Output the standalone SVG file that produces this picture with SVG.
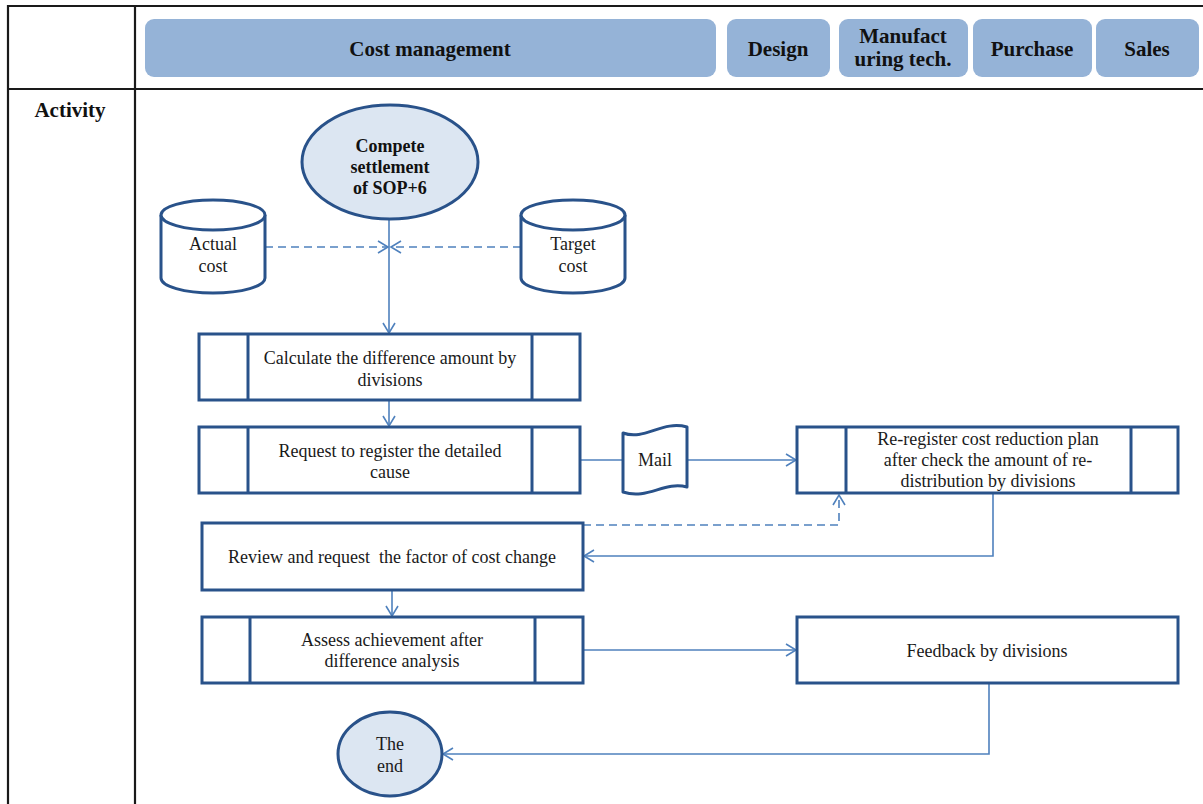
<svg xmlns="http://www.w3.org/2000/svg" width="1203" height="804" viewBox="0 0 1203 804">
  <style>
    .grid { stroke: #1a1a1a; stroke-width: 2.2; fill: none; }
    .lane { fill: #95b3d7; }
    .lane-text { font-family: "Liberation Serif", "Times New Roman", serif; font-size: 21px; font-weight: bold; fill: #111; text-anchor: middle; }
    .shape { fill: #ffffff; stroke: #29528a; stroke-width: 3; }
    .term { fill: #dce6f2; stroke: #29528a; stroke-width: 3; }
    .div { stroke: #29528a; stroke-width: 3; }
    .label { font-family: "Liberation Serif", "Times New Roman", serif; font-size: 18px; fill: #1a1a1a; text-anchor: middle; }
    .label-b { font-family: "Liberation Serif", "Times New Roman", serif; font-size: 18px; font-weight: bold; fill: #111; text-anchor: middle; }
    .flow { fill: none; stroke: #4f81bd; stroke-width: 1.6; }
    .dash { stroke-dasharray: 8 5; }
  </style>
  <defs>
    <marker id="arrow" markerWidth="14" markerHeight="14" viewBox="0 0 14 14" refX="12" refY="7" orient="auto" markerUnits="userSpaceOnUse">
      <path d="M2,1 L12,7 L2,13" fill="none" stroke="#4f81bd" stroke-width="1.6"/>
    </marker>
  </defs>

  <rect width="1203" height="804" fill="#ffffff"/>

  <!-- table frame -->
  <g id="table">
    <line class="grid" x1="7" y1="6" x2="1203" y2="6"/>
    <line class="grid" x1="7" y1="89" x2="1203" y2="89"/>
    <line class="grid" x1="8" y1="5" x2="8" y2="804"/>
    <line class="grid" x1="135" y1="5" x2="135" y2="804"/>
    <text class="lane-text" x="70" y="117">Activity</text>
  </g>

  <!-- swimlane headers -->
  <g id="lane-cost">
    <rect class="lane" x="145" y="19" width="571" height="58" rx="9"/>
    <text class="lane-text" x="430" y="56">Cost management</text>
  </g>
  <g id="lane-design">
    <rect class="lane" x="727" y="19" width="103" height="58" rx="9"/>
    <text class="lane-text" x="778" y="56">Design</text>
  </g>
  <g id="lane-manufacturing">
    <rect class="lane" x="839" y="19" width="129" height="58" rx="9"/>
    <text class="lane-text" x="903" y="43">Manufact</text>
    <text class="lane-text" x="903" y="66">uring tech.</text>
  </g>
  <g id="lane-purchase">
    <rect class="lane" x="973" y="19" width="119" height="58" rx="9"/>
    <text class="lane-text" x="1032" y="56">Purchase</text>
  </g>
  <g id="lane-sales">
    <rect class="lane" x="1096" y="19" width="103" height="58" rx="9"/>
    <text class="lane-text" x="1147" y="56">Sales</text>
  </g>

  <!-- connectors -->
  <g id="connectors">
    <line class="flow" x1="389" y1="219" x2="389" y2="333" marker-end="url(#arrow)"/>
    <line class="flow dash" x1="265" y1="247" x2="388" y2="247" marker-end="url(#arrow)"/>
    <line class="flow dash" x1="521" y1="247" x2="391" y2="247" marker-end="url(#arrow)"/>
    <line class="flow" x1="389" y1="400" x2="389" y2="426" marker-end="url(#arrow)"/>
    <line class="flow" x1="580" y1="460" x2="623" y2="460"/>
    <line class="flow" x1="687" y1="460" x2="796" y2="460" marker-end="url(#arrow)"/>
    <polyline class="flow dash" points="583,525 839,525 839,495" marker-end="url(#arrow)"/>
    <polyline class="flow" points="993,493 993,556 584,556" marker-end="url(#arrow)"/>
    <line class="flow" x1="392" y1="590" x2="392" y2="616" marker-end="url(#arrow)"/>
    <line class="flow" x1="583" y1="650" x2="796" y2="650" marker-end="url(#arrow)"/>
    <polyline class="flow" points="989,683 989,754 443,754" marker-end="url(#arrow)"/>
  </g>

  <!-- start terminal -->
  <g id="start">
    <ellipse class="term" cx="390" cy="162" rx="88" ry="57"/>
    <text class="label-b" x="390" y="152">Compete</text>
    <text class="label-b" x="390" y="173">settlement</text>
    <text class="label-b" x="390" y="194">of SOP+6</text>
  </g>

  <!-- data stores -->
  <g id="actual-cost">
    <path class="shape" d="M161,215 A52,15 0 0 1 265,215 L265,278 A52,15 0 0 1 161,278 Z"/>
    <path class="shape" fill="none" d="M161,215 A52,15 0 0 0 265,215"/>
    <text class="label" x="213" y="250">Actual</text>
    <text class="label" x="213" y="272">cost</text>
  </g>
  <g id="target-cost">
    <path class="shape" d="M521,215 A52,15 0 0 1 625,215 L625,278 A52,15 0 0 1 521,278 Z"/>
    <path class="shape" fill="none" d="M521,215 A52,15 0 0 0 625,215"/>
    <text class="label" x="573" y="250">Target</text>
    <text class="label" x="573" y="272">cost</text>
  </g>

  <!-- predefined processes -->
  <g id="calc-difference">
    <rect class="shape" x="199" y="334" width="381" height="66"/>
    <line class="div" x1="248" y1="334" x2="248" y2="400"/>
    <line class="div" x1="532" y1="334" x2="532" y2="400"/>
    <text class="label" x="390" y="364">Calculate the difference amount by</text>
    <text class="label" x="390" y="386">divisions</text>
  </g>
  <g id="request-cause">
    <rect class="shape" x="199" y="427" width="381" height="66"/>
    <line class="div" x1="248" y1="427" x2="248" y2="493"/>
    <line class="div" x1="532" y1="427" x2="532" y2="493"/>
    <text class="label" x="390" y="457">Request to register the detailed</text>
    <text class="label" x="390" y="478">cause</text>
  </g>

  <!-- mail (punched tape) -->
  <g id="mail">
    <path class="shape" stroke-linejoin="round" d="M623,433 C645,441 662,420 687,427 L687,487 C664,481 648,500 623,492 Z"/>
    <text class="label" x="655" y="466">Mail</text>
  </g>

  <g id="re-register">
    <rect class="shape" x="797" y="427" width="381" height="66"/>
    <line class="div" x1="846" y1="427" x2="846" y2="493"/>
    <line class="div" x1="1131" y1="427" x2="1131" y2="493"/>
    <text class="label" x="988" y="445">Re-register cost reduction plan</text>
    <text class="label" x="988" y="466">after check  the amount of re-</text>
    <text class="label" x="988" y="487">distribution by divisions</text>
  </g>

  <g id="review-request">
    <rect class="shape" x="202" y="523" width="381" height="67"/>
    <text class="label" x="392" y="563" xml:space="preserve">Review and request  the factor of cost change</text>
  </g>

  <g id="assess">
    <rect class="shape" x="202" y="617" width="381" height="66"/>
    <line class="div" x1="250" y1="617" x2="250" y2="683"/>
    <line class="div" x1="535" y1="617" x2="535" y2="683"/>
    <text class="label" x="392" y="646">Assess achievement after</text>
    <text class="label" x="392" y="667">difference analysis</text>
  </g>

  <g id="feedback">
    <rect class="shape" x="797" y="617" width="381" height="66"/>
    <text class="label" x="987" y="657">Feedback by divisions</text>
  </g>

  <!-- end terminal -->
  <g id="end">
    <ellipse class="term" cx="390" cy="754" rx="52" ry="42"/>
    <text class="label" x="390" y="750">The</text>
    <text class="label" x="390" y="772">end</text>
  </g>
</svg>
